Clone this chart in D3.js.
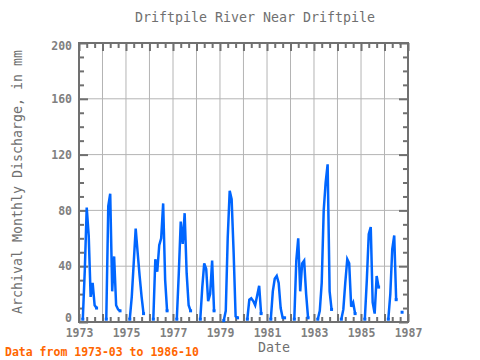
<!DOCTYPE html>
<html><head><meta charset="utf-8">
<script src="https://cdn.jsdelivr.net/npm/d3@7"></script>
<style>body{margin:0;background:#fff}svg{display:block}text{font-family:"DejaVu Sans Mono",monospace}</style>
</head><body>
<svg id="c" width="480" height="360"></svg>
<script>
const title = "Driftpile River Near Driftpile";
const yLabel = "Archival Monthly Discharge, in mm";
const xLabel = "Date";
const note = "Data from 1973-03 to 1986-10";
const years = [1973,1974,1975,1976,1977,1978,1979,1980,1981,1982,1983,1984,1985,1986];
const months = [3,4,5,6,7,8,9,10]; // Mar..Oct
const discharge = [
  [2, 37, 82, 62, 18, 28, 12, 10],
  [2, 83, 92, 22, 47, 12, 9, 8],
  [2, 18, 42, 67, 50, 33, 18, 6],
  [2, 45, 36, 55, 60, 85, 30, 8],
  [2, 35, 72, 56, 78, 35, 12, 8],
  [2, 25, 42, 38, 15, 20, 44, 8],
  [1, 8, 60, 94, 88, 50, 4, 3],
  [2, 16, 17, 15, 12, 19, 26, 6],
  [2, 22, 31, 33, 28, 10, 3, 3],
  [2, 44, 60, 22, 42, 44, 20, 3],
  [2, 8, 28, 80, 100, 113, 22, 9],
  [2, 9, 28, 45, 42, 11, 14, 6],
  [2, 30, 63, 68, 14, 6, 33, 25],
  [2, 20, 52, 62, 16, null, null, 7]
];
const yTicks = [0, 40, 80, 120, 160, 200];
const xTickYears = [1973,1975,1977,1979,1981,1983,1985,1987];

// build monthly series with gaps for winter months
const series = [];
years.forEach((yr, i) => {
  for (let m = 1; m <= 12; m++) {
    const k = months.indexOf(m);
    const v = k >= 0 ? discharge[i][k] : null;
    if (yr === 1973 && m < 3) continue;
    if (yr === 1986 && m > 10) continue;
    series.push({date: new Date(yr, m - 1, 1), value: v});
  }
});

const svg = d3.select("#c");
const L = 79, R = 408, T = 43, B = 322;
const x = d3.scaleTime().domain([new Date(1973,0,1), new Date(1987,0,1)]).range([L, R]);
const y = d3.scaleLinear().domain([0, 200]).range([B, T]);

const axisColor = "#707070", gridColor = "#b4b4b4", textColor = "#808080";

// grid
const g = svg.append("g");
g.selectAll(".vg").data(d3.range(1974, 1987)).enter().append("line")
  .attr("x1", d => x(new Date(d,0,1))).attr("x2", d => x(new Date(d,0,1)))
  .attr("y1", T).attr("y2", B).attr("stroke", gridColor).attr("stroke-width", 1);
g.selectAll(".hg").data(yTicks.slice(1, -1)).enter().append("line")
  .attr("x1", L).attr("x2", R).attr("y1", d => y(d)).attr("y2", d => y(d))
  .attr("stroke", gridColor).attr("stroke-width", 1);

// ticks (inward) on all four sides
function styleAxis(sel) {
  sel.select(".domain").remove();
  sel.selectAll(".tick line").attr("stroke", axisColor).attr("stroke-width", 2);
  sel.selectAll(".tick text").attr("fill", textColor).attr("font-size", 11.5).attr("font-weight", "bold");
}
const minorX = d3.timeMonth.every(4).range(new Date(1973,0,1), new Date(1987,0,2)).filter(d => d.getMonth() !== 0);
const majorX = d3.range(1973, 1988).map(yy => new Date(yy,0,1));
const minorY = d3.range(0, 201, 10).filter(v => v % 40 !== 0);

svg.append("g").attr("transform", `translate(0,${B})`)
  .call(d3.axisBottom(x).tickValues(minorX).tickSize(-5).tickFormat("")).call(styleAxis);
svg.append("g").attr("transform", `translate(0,${B})`)
  .call(d3.axisBottom(x).tickValues(majorX).tickSize(-8).tickPadding(7)
    .tickFormat(d => xTickYears.includes(d.getFullYear()) ? d3.timeFormat("%Y")(d) : ""))
  .call(styleAxis);
svg.append("g").attr("transform", `translate(0,${T})`)
  .call(d3.axisTop(x).tickValues(minorX).tickSize(-5).tickFormat("")).call(styleAxis);
svg.append("g").attr("transform", `translate(0,${T})`)
  .call(d3.axisTop(x).tickValues(majorX).tickSize(-8).tickFormat("")).call(styleAxis);
svg.append("g").attr("transform", `translate(${L},0)`)
  .call(d3.axisLeft(y).tickValues(minorY).tickSize(-5).tickFormat("")).call(styleAxis);
const yAx = svg.append("g").attr("transform", `translate(${L},0)`)
  .call(d3.axisLeft(y).tickValues(yTicks).tickSize(-9).tickPadding(7).tickFormat(d3.format("d")))
  .call(styleAxis);
yAx.selectAll(".tick text").attr("dy", d => d === 0 ? "-0.05em" : d === 200 ? "0.6em" : "0.32em");
svg.append("g").attr("transform", `translate(${R},0)`)
  .call(d3.axisRight(y).tickValues(minorY).tickSize(-5).tickFormat("")).call(styleAxis);
svg.append("g").attr("transform", `translate(${R},0)`)
  .call(d3.axisRight(y).tickValues(yTicks).tickSize(-9).tickFormat("")).call(styleAxis);

// frame
svg.append("rect").attr("x", L).attr("y", T).attr("width", R - L).attr("height", B - T)
  .attr("fill", "none").attr("stroke", axisColor).attr("stroke-width", 2);

// data line
const lineColor = "#0066ff";
const line = d3.line().defined(d => d.value != null).x(d => x(d.date)).y(d => y(d.value));
svg.append("path").datum(series).attr("d", line).attr("fill", "none")
  .attr("stroke", lineColor).attr("stroke-width", 2.5).attr("stroke-linejoin", "miter");
// end points of each segment
const ends = series.filter((d, i) => d.value != null &&
  (i === 0 || series[i-1].value == null || i === series.length - 1 || series[i+1].value == null));
svg.selectAll(".pt").data(ends).enter().append("rect")
  .attr("x", d => x(d.date) - 1.5).attr("y", d => y(d.value) - 1.5)
  .attr("width", 3).attr("height", 3).attr("fill", lineColor);

// texts
svg.append("text").attr("x", 255).attr("y", 22).attr("text-anchor", "middle")
  .attr("font-size", 13.3).attr("fill", "#707070").text(title);
svg.append("text").attr("transform", "translate(22,182) rotate(-90)").attr("text-anchor", "middle")
  .attr("font-size", 13.3).attr("fill", "#707070").text(yLabel);
svg.append("text").attr("x", 274).attr("y", 352).attr("text-anchor", "middle")
  .attr("font-size", 13.3).attr("fill", "#707070").text(xLabel);
svg.append("text").attr("x", 5).attr("y", 356).attr("font-size", 11.5).attr("font-weight", "bold")
  .attr("fill", "#ff6600").text(note);
</script>
</body></html>
